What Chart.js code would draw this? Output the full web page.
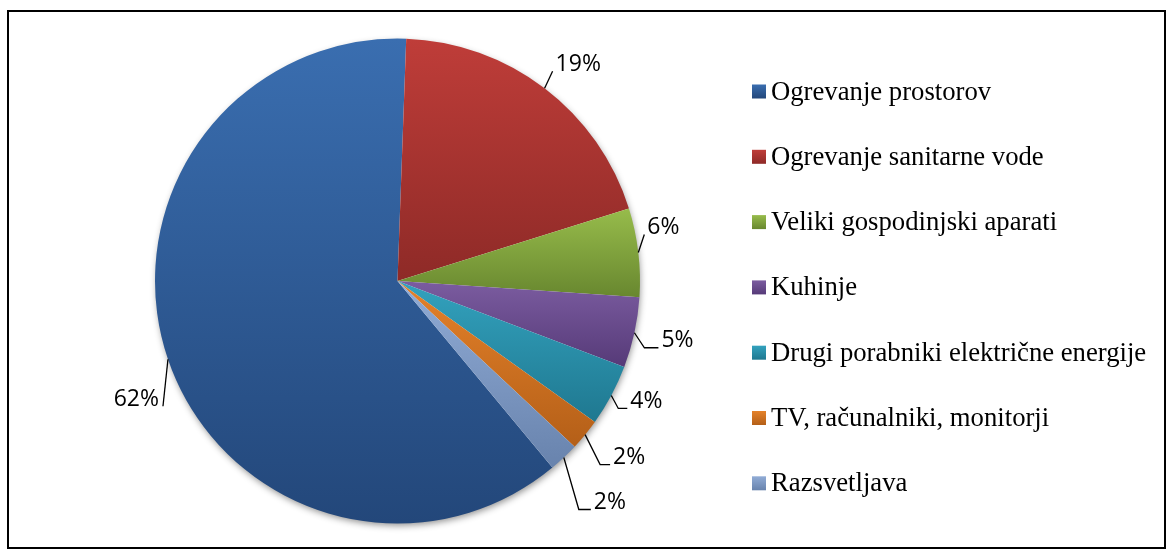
<!DOCTYPE html>
<html>
<head>
<meta charset="utf-8">
<script src="https://cdn.jsdelivr.net/npm/chart.js@4.4.1/dist/chart.umd.min.js"></script>
<style>
    html, body { margin: 0; padding: 0; background: #fff; }
    #wrap { position: relative; width: 1175px; height: 558px; }
    #frame {
        position: absolute; left: 7px; top: 10px; width: 1159px; height: 539px;
        border: 2px solid #000; box-sizing: border-box; pointer-events: none;
    }
</style>
</head>
<body>
<div id="wrap">
    <canvas id="pieChart"></canvas>
    <div id="frame"></div>
</div>
<script>
// chart data
const categories = [
    'Ogrevanje prostorov',
    'Ogrevanje sanitarne vode',
    'Veliki gospodinjski aparati',
    'Kuhinje',
    'Drugi porabniki električne energije',
    'TV, računalniki, monitorji',
    'Razsvetljava'
];
const shares = [61.6, 19.6, 5.9, 4.7, 4.1, 2.1, 2.0];
const shareLabels = ['62%', '19%', '6%', '5%', '4%', '2%', '2%'];

// slice colours (top / bottom of the gradient)
const colorsTop = ['#3a6eb0', '#bf3d39', '#97bc4b', '#7b5ca0', '#33a2be', '#e5822a', '#91acd6'];
const colorsBottom = ['#23477a', '#8e2a27', '#68872f', '#563a78', '#1f7890', '#b45f18', '#6883ad'];

// first slice angle, degrees from 12 o'clock
const firstSliceAngle = 140.3;

// leader line layout per label: elbow offset from the slice edge, horizontal tail, text side
const labelLayout = [
    { dx: -5, dy: 47, tail: 0, side: 'left' },
    { dx: 8, dy: -17, tail: 0, side: 'right' },
    { dx: 6, dy: -18, tail: 0, side: 'right' },
    { dx: 10, dy: 15, tail: 14, side: 'right' },
    { dx: 7, dy: 13, tail: 9, side: 'right' },
    { dx: 15, dy: 30, tail: 10, side: 'right' },
    { dx: 15, dy: 52, tail: 12, side: 'right' }
];

// angles of each slice in canvas radians
function sliceAngles() {
    const total = shares.reduce((a, b) => a + b, 0);
    let a = (firstSliceAngle - 90) * Math.PI / 180;
    return shares.map(v => {
        const s = a;
        a += v / total * Math.PI * 2;
        return [s, a];
    });
}

// vertical gradient across the bounding box of one slice
function sliceGradient(context) {
    const chart = context.chart;
    const area = chart.chartArea;
    const i = context.dataIndex;
    if (!area) return colorsTop[i];
    const cx = (area.left + area.right) / 2;
    const cy = (area.top + area.bottom) / 2;
    const r = Math.min(area.width, area.height) / 2;
    const [s, e] = sliceAngles()[i];
    let ys = [cy, cy + r * Math.sin(s), cy + r * Math.sin(e)];
    for (let k = -4; k <= 4; k++) {
        const t = Math.PI / 2 + k * Math.PI;
        if (t > s && t < e) ys.push(cy + r * Math.sin(t));
    }
    const top = Math.min(...ys), bottom = Math.max(...ys);
    const g = chart.ctx.createLinearGradient(0, top, 0, bottom);
    g.addColorStop(0, colorsTop[i]);
    g.addColorStop(1, colorsBottom[i]);
    return g;
}

// shadow behind the pie
const pieShadow = {
    id: 'pieShadow',
    beforeDatasetsDraw(chart) {
        const arc = chart.getDatasetMeta(0).data[0];
        if (!arc) return;
        const ctx = chart.ctx;
        ctx.save();
        ctx.beginPath();
        ctx.arc(arc.x, arc.y, arc.outerRadius - 1, 0, Math.PI * 2);
        ctx.shadowColor = 'rgba(0,0,0,0.45)';
        ctx.shadowBlur = 7;
        ctx.shadowOffsetX = 1;
        ctx.shadowOffsetY = 3;
        ctx.fillStyle = '#ffffff';
        ctx.fill();
        ctx.restore();
    }
};

// percentage labels with leader lines, and the legend
const pieLabels = {
    id: 'pieLabels',
    afterDatasetsDraw(chart) {
        const ctx = chart.ctx;
        const arcs = chart.getDatasetMeta(0).data;
        ctx.save();
        ctx.strokeStyle = '#000';
        ctx.lineWidth = 1.3;
        ctx.fillStyle = '#000';
        ctx.font = '23px "Open Sans"';
        ctx.textBaseline = 'middle';
        arcs.forEach((arc, i) => {
            const mid = (arc.startAngle + arc.endAngle) / 2;
            const ax = arc.x + arc.outerRadius * Math.cos(mid);
            const ay = arc.y + arc.outerRadius * Math.sin(mid);
            const lay = labelLayout[i];
            const ex = ax + lay.dx, ey = ay + lay.dy;
            const tx = ex + lay.tail;
            ctx.beginPath();
            ctx.moveTo(ax, ay);
            ctx.lineTo(ex, ey);
            ctx.lineTo(tx, ey);
            ctx.stroke();
            if (lay.side === 'left') {
                ctx.textAlign = 'right';
                ctx.fillText(shareLabels[i], tx - 4, ey - 7);
            } else {
                ctx.textAlign = 'left';
                ctx.fillText(shareLabels[i], tx + 3, ey - 7);
            }
        });

        // legend
        ctx.font = '26.7px "Liberation Serif"';
        ctx.textAlign = 'left';
        categories.forEach((name, i) => {
            const y = 91.5 + i * 65.3;
            const g = ctx.createLinearGradient(0, y - 7, 0, y + 7);
            g.addColorStop(0, colorsTop[i]);
            g.addColorStop(1, colorsBottom[i]);
            ctx.fillStyle = g;
            ctx.fillRect(752, y - 7, 14, 14);
            ctx.fillStyle = '#000';
            ctx.fillText(name, 771, y + 1);
        });
        ctx.restore();
    }
};

const ctx = document.getElementById('pieChart').getContext('2d');
new Chart(ctx, {
    type: 'pie',
    data: {
        labels: categories,
        datasets: [{
            data: shares,
            backgroundColor: sliceGradient,
            borderWidth: 0,
            hoverOffset: 0
        }]
    },
    options: {
        responsive: true,
        maintainAspectRatio: false,
        animation: false,
        rotation: firstSliceAngle,
        layout: { padding: { left: 155, top: 38, right: 535, bottom: 34 } },
        plugins: {
            legend: { display: false },
            tooltip: { enabled: false }
        }
    },
    plugins: [pieShadow, pieLabels]
});
</script>
</body>
</html>
